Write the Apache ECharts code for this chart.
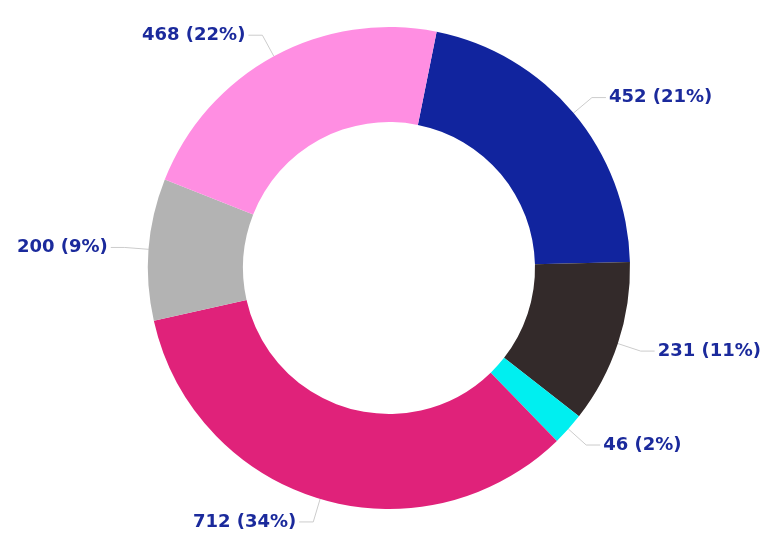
<!DOCTYPE html>
<html><head><meta charset="utf-8">
<script src="https://cdn.jsdelivr.net/npm/echarts@6/dist/echarts.min.js"></script>
<style>html,body{margin:0;padding:0;background:#fff}#c{width:767px;height:540px}</style>
</head><body><div id="c"></div>
<script>
const values = [452, 231, 46, 712, 200, 468];
const colors = ['#11249e', '#332a2a', '#00eff0', '#e0227a', '#b3b3b3', '#ff8ee2'];
const total = values.reduce((a, b) => a + b, 0);
const chart = echarts.init(document.getElementById('c'));
chart.setOption({
  animation: false,
  series: [{
    type: 'pie',
    center: [389, 268],
    radius: [146, 241],
    startAngle: 78.6,
    clockwise: true,
    avoidLabelOverlap: false,
    data: values.map((v, i) => ({ value: v, itemStyle: { color: colors[i] } })),
    label: {
      show: true,
      position: 'outside',
      formatter: p => p.value + ' (' + Math.round(p.value / total * 100) + '%)',
      color: '#1b2a9c',
      fontFamily: 'DejaVu Sans',
      fontWeight: 'bold',
      fontSize: 18,
      distanceToLabelLine: 3
    },
    labelLine: { show: true, length: 24, length2: 14, lineStyle: { color: '#cccccc', width: 1 } },
    emphasis: { disabled: true }
  }]
});
</script></body></html>
